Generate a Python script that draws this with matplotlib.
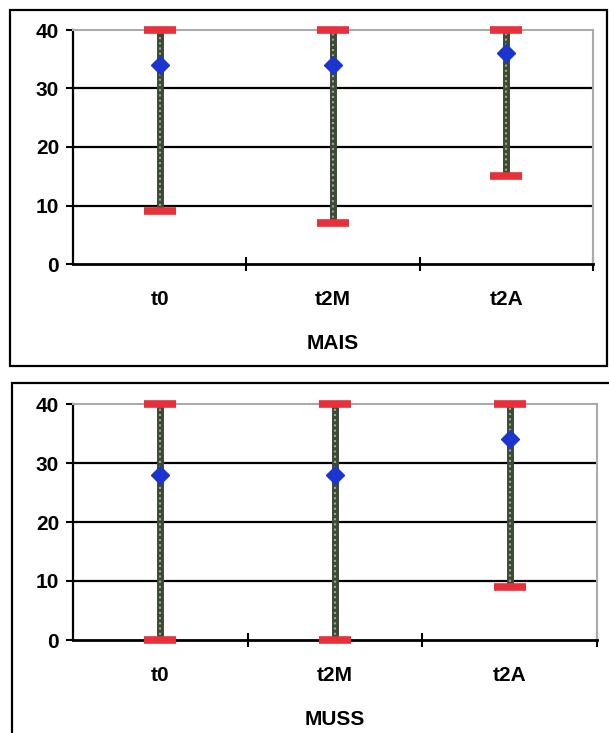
import numpy as np
import matplotlib.pyplot as plt
from matplotlib.patches import Rectangle

# Данные
categories = ['t0', 't2M', 't2A']
mais_max = [40, 40, 40]
mais_min = [9, 7, 15]
mais_mean = [34, 34, 36]
muss_max = [40, 40, 40]
muss_min = [0, 0, 9]
muss_mean = [28, 28, 34]

W, H = 609, 733
FS = 15
plt.rcParams['font.family'] = ['Liberation Sans', 'DejaVu Sans']
plt.rcParams['font.weight'] = 'bold'

fig = plt.figure(figsize=(W / 100, H / 100), dpi=100)


def px_axes(left, top, right, bottom):
    return fig.add_axes([left / W, 1 - bottom / H, (right - left) / W, (bottom - top) / H])


def frame(left, top, right, bottom):
    fig.patches.append(Rectangle((left / W, 1 - bottom / H), (right - left) / W, (bottom - top) / H,
                                 transform=fig.transFigure, fill=False, ec='black', lw=1.6))


def panel(ax, lo, hi, mean, title):
    x = np.arange(len(categories))
    ax.set_xlim(-0.5, len(categories) - 0.5)
    ax.set_ylim(0, 40)
    ax.set_yticks([0, 10, 20, 30, 40])
    for y in [10, 20, 30]:
        ax.axhline(y, color='black', lw=1.6, zorder=1)
    # "штриховая" вертикальная линия диапазона
    ax.vlines(x, lo, hi, color='#3c4a34', lw=5, zorder=2)
    ax.vlines(x, lo, hi, color='#9aa890', lw=1.5, linestyles=(0, (1, 1.5)), zorder=3)
    ax.plot(x, hi, ls='none', marker='_', ms=23, mew=5.5, color='#e8303c', clip_on=False, zorder=4)
    ax.plot(x, lo, ls='none', marker='_', ms=23, mew=5.5, color='#e8303c', clip_on=False, zorder=4)
    ax.plot(x, mean, ls='none', marker='D', ms=9.5, color='#1d35d0', clip_on=False, zorder=5)

    ax.set_xticks(x + 0.5)
    ax.set_xticklabels([])
    ax.set_xticks(x, minor=True)
    ax.set_xticklabels(categories, minor=True, fontsize=FS, fontweight='bold')
    ax.tick_params(axis='x', which='major', direction='inout', length=10, width=1.5)
    ax.tick_params(axis='x', which='minor', length=0, pad=19)
    ax.tick_params(axis='y', direction='out', length=5, width=1.5, labelsize=FS, pad=5)
    for lab in ax.get_yticklabels():
        lab.set_fontweight('bold')

    ax.spines['left'].set_linewidth(1.6)
    ax.spines['bottom'].set_linewidth(2)
    ax.spines['top'].set_color('#a8aca8')
    ax.spines['right'].set_color('#a8aca8')
    ax.spines['top'].set_linewidth(1.5)
    ax.spines['right'].set_linewidth(1.5)
    ax.set_xlabel(title, fontsize=FS, fontweight='bold', labelpad=18)


frame(10, 10, 607, 366)
ax1 = px_axes(73, 30, 593, 264)
panel(ax1, mais_min, mais_max, mais_mean, 'MAIS')

frame(12, 383, 640, 760)
ax2 = px_axes(73, 404, 597, 640)
panel(ax2, muss_min, muss_max, muss_mean, 'MUSS')

fig.savefig('out.png', dpi=100)
